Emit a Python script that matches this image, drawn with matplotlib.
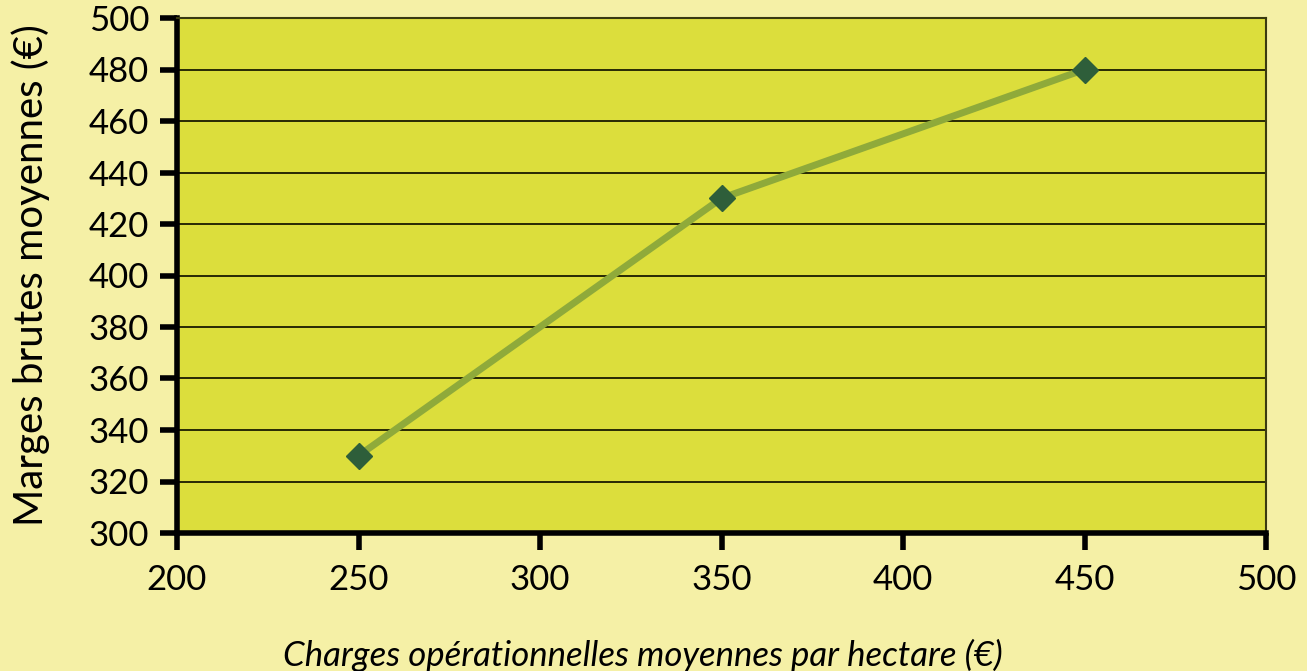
import matplotlib
matplotlib.use('Agg')
import matplotlib.pyplot as plt

charges = [250, 350, 450]
marges = [330, 430, 480]
x_ticks = [200, 250, 300, 350, 400, 450, 500]
y_ticks = list(range(300, 501, 20))

plt.rcParams['font.family'] = ['Lato', 'DejaVu Sans']

fig = plt.figure(figsize=(13.07, 6.71), dpi=100)
fig.patch.set_facecolor('#F5F0A6')
ax = fig.add_axes([177 / 1307, 1 - 533 / 671, (1266 - 177) / 1307, (533 - 18) / 671])
ax.set_facecolor('#DCDE3C')

ax.plot(charges, marges, color='#8FAA3A', linewidth=5, zorder=3)
ax.plot(charges, marges, linestyle='none', marker='D', markersize=13,
        color='#2E5E3A', zorder=4)

ax.set_xlim(200, 500)
ax.set_ylim(300, 500)
ax.set_xticks(x_ticks)
ax.set_yticks(y_ticks)
ax.yaxis.grid(True, color='#1a1a00', linewidth=1.3)
ax.set_axisbelow(True)

for s in ['left', 'bottom']:
    ax.spines[s].set_linewidth(4)
    ax.spines[s].set_color('black')
for s in ['top', 'right']:
    ax.spines[s].set_linewidth(1.5)
    ax.spines[s].set_color('#3a3a10')

ax.tick_params(axis='both', direction='out', length=12, width=4, color='black',
               labelsize=25, pad=10)
ax.tick_params(axis='y', pad=8)

ax.set_ylabel('Marges brutes moyennes (€)', fontsize=29, labelpad=28)
ax.set_xlabel('Charges opérationnelles moyennes par hectare (€)', fontsize=25,
              style='italic')
# label sits left of the axes centre in the original
ax.xaxis.set_label_coords((643 - 177) / (1266 - 177), -0.205)

fig.savefig('out.png', dpi=100, facecolor=fig.get_facecolor())
